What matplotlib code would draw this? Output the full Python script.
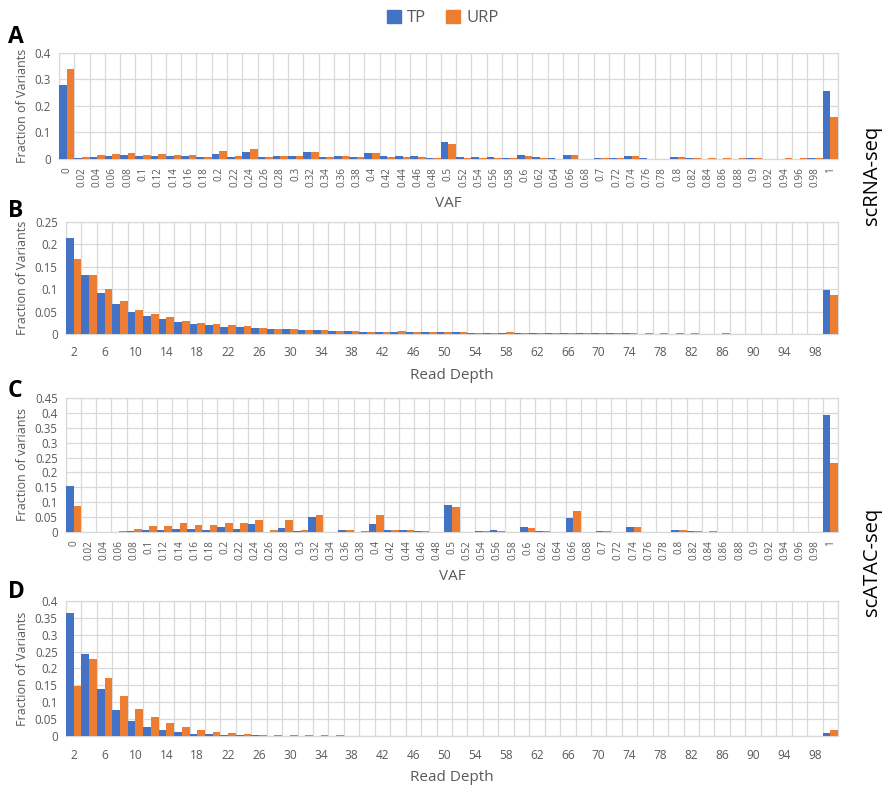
import matplotlib
matplotlib.use("Agg")
import matplotlib.pyplot as plt
import numpy as np
from matplotlib.patches import Patch

plt.rcParams['font.family'] = ['Open Sans', 'DejaVu Sans']

vaf_labels = ['0', '0.02', '0.04', '0.06', '0.08', '0.1', '0.12', '0.14', '0.16', '0.18',
              '0.2', '0.22', '0.24', '0.26', '0.28', '0.3', '0.32', '0.34', '0.36', '0.38',
              '0.4', '0.42', '0.44', '0.46', '0.48', '0.5', '0.52', '0.54', '0.56', '0.58',
              '0.6', '0.62', '0.64', '0.66', '0.68', '0.7', '0.72', '0.74', '0.76', '0.78',
              '0.8', '0.82', '0.84', '0.86', '0.88', '0.9', '0.92', '0.94', '0.96', '0.98', '1']
depth_labels = [str(d) for d in range(2, 101, 2)]

# Panel A: scRNA-seq VAF
a_tp = [0.280, 0.005, 0.009, 0.011, 0.014, 0.011, 0.012, 0.011, 0.011, 0.006,
        0.020, 0.009, 0.027, 0.006, 0.010, 0.011, 0.025, 0.006, 0.011, 0.006,
        0.021, 0.011, 0.011, 0.010, 0.004, 0.064, 0.007, 0.007, 0.007, 0.005,
        0.014, 0.007, 0.002, 0.017, 0.001, 0.003, 0.002, 0.010, 0.002, 0.000,
        0.007, 0.002, 0.001, 0.001, 0.001, 0.002, 0.000, 0.000, 0.001, 0.003, 0.256]
a_urp = [0.339, 0.007, 0.014, 0.019, 0.022, 0.017, 0.019, 0.017, 0.015, 0.009,
         0.029, 0.010, 0.037, 0.007, 0.012, 0.012, 0.025, 0.006, 0.011, 0.006,
         0.021, 0.007, 0.007, 0.006, 0.002, 0.056, 0.004, 0.004, 0.004, 0.004,
         0.011, 0.005, 0.001, 0.015, 0.001, 0.003, 0.002, 0.010, 0.001, 0.000,
         0.007, 0.002, 0.003, 0.002, 0.002, 0.002, 0.000, 0.002, 0.002, 0.002, 0.160]

# Panel B: scRNA-seq read depth
b_tp = [0.214, 0.131, 0.092, 0.067, 0.049, 0.041, 0.033, 0.026, 0.022, 0.019,
        0.016, 0.015, 0.013, 0.011, 0.010, 0.009, 0.008, 0.007, 0.006, 0.005,
        0.005, 0.005, 0.005, 0.004, 0.004, 0.004, 0.003, 0.003, 0.003, 0.003,
        0.002, 0.002, 0.003, 0.002, 0.002, 0.002, 0.002, 0.001, 0.001, 0.001,
        0.001, 0.001, 0.001, 0.001, 0.001, 0.001, 0.001, 0.001, 0.001, 0.099]
b_urp = [0.168, 0.132, 0.100, 0.074, 0.054, 0.045, 0.037, 0.029, 0.025, 0.023,
         0.019, 0.017, 0.014, 0.012, 0.012, 0.009, 0.008, 0.007, 0.007, 0.005,
         0.005, 0.006, 0.005, 0.005, 0.004, 0.005, 0.003, 0.003, 0.004, 0.003,
         0.003, 0.002, 0.002, 0.002, 0.002, 0.003, 0.002, 0.002, 0.002, 0.002,
         0.002, 0.001, 0.002, 0.001, 0.001, 0.001, 0.001, 0.001, 0.001, 0.088]

# Panel C: scATAC-seq VAF
c_tp = [0.156, 0.000, 0.000, 0.000, 0.002, 0.006, 0.006, 0.010, 0.010, 0.006,
        0.017, 0.009, 0.027, 0.001, 0.015, 0.004, 0.049, 0.000, 0.006, 0.000,
        0.028, 0.008, 0.005, 0.002, 0.000, 0.092, 0.001, 0.004, 0.006, 0.000,
        0.016, 0.004, 0.000, 0.047, 0.000, 0.004, 0.000, 0.017, 0.000, 0.000,
        0.007, 0.004, 0.001, 0.000, 0.000, 0.000, 0.000, 0.000, 0.000, 0.000, 0.394]
c_urp = [0.087, 0.000, 0.000, 0.002, 0.009, 0.020, 0.021, 0.030, 0.022, 0.022,
         0.031, 0.031, 0.039, 0.005, 0.040, 0.006, 0.058, 0.001, 0.007, 0.002,
         0.057, 0.008, 0.005, 0.002, 0.000, 0.084, 0.001, 0.004, 0.004, 0.000,
         0.013, 0.003, 0.000, 0.071, 0.000, 0.004, 0.000, 0.016, 0.000, 0.000,
         0.006, 0.004, 0.002, 0.000, 0.000, 0.000, 0.000, 0.000, 0.000, 0.000, 0.232]

# Panel D: scATAC-seq read depth
d_tp = [0.365, 0.243, 0.139, 0.077, 0.045, 0.028, 0.018, 0.011, 0.007, 0.005,
        0.003, 0.002, 0.002, 0.001, 0.001, 0.000, 0.000, 0.000, 0.000, 0.000,
        0.000, 0.000, 0.000, 0.000, 0.000, 0.000, 0.000, 0.000, 0.000, 0.000,
        0.000, 0.000, 0.000, 0.000, 0.000, 0.000, 0.000, 0.000, 0.000, 0.000,
        0.000, 0.000, 0.000, 0.000, 0.000, 0.000, 0.000, 0.000, 0.000, 0.008]
d_urp = [0.148, 0.227, 0.171, 0.118, 0.081, 0.056, 0.039, 0.027, 0.017, 0.012,
         0.009, 0.006, 0.004, 0.003, 0.003, 0.002, 0.002, 0.002, 0.000, 0.000,
         0.000, 0.000, 0.000, 0.000, 0.000, 0.000, 0.000, 0.000, 0.000, 0.000,
         0.000, 0.000, 0.000, 0.000, 0.000, 0.000, 0.000, 0.000, 0.000, 0.000,
         0.000, 0.000, 0.000, 0.000, 0.000, 0.000, 0.000, 0.000, 0.000, 0.018]

TP_C = '#4472C4'
URP_C = '#ED7D31'
GRID_C = '#D9D9D9'
TXT_C = '#595959'

fig = plt.figure(figsize=(8.86, 7.86), dpi=100)

panels = [
    dict(rect=[0.0666, 0.7977, 0.8792, 0.1349], tp=a_tp, urp=a_urp, labels=vaf_labels,
         ymax=0.4, ystep=0.1, ylabel='Fraction of Variants', xlabel='VAF', kind='vaf', letter='A'),
    dict(rect=[0.0745, 0.5751, 0.8713, 0.1425], tp=b_tp, urp=b_urp, labels=depth_labels,
         ymax=0.25, ystep=0.05, ylabel='Fraction of Variants', xlabel='Read Depth', kind='depth', letter='B'),
    dict(rect=[0.0745, 0.3232, 0.8713, 0.1704], tp=c_tp, urp=c_urp, labels=vaf_labels,
         ymax=0.45, ystep=0.05, ylabel='Fraction of variants', xlabel='VAF', kind='vaf', letter='C'),
    dict(rect=[0.0745, 0.0636, 0.8713, 0.1718], tp=d_tp, urp=d_urp, labels=depth_labels,
         ymax=0.4, ystep=0.05, ylabel='Fraction of Variants', xlabel='Read Depth', kind='depth', letter='D'),
]

for p in panels:
    ax = fig.add_axes(p['rect'])
    n = len(p['labels'])
    x = np.arange(n)
    ax.bar(x - 0.25, p['tp'], width=0.5, color=TP_C, zorder=3)
    ax.bar(x + 0.25, p['urp'], width=0.5, color=URP_C, zorder=3)
    ax.set_xlim(-0.5, n - 0.5)
    ax.set_ylim(0, p['ymax'])
    yt = np.arange(0, p['ymax'] + 1e-9, p['ystep'])
    ax.set_yticks(yt)
    ax.set_yticklabels([f'{v:g}' for v in np.round(yt, 3)])
    ax.set_xticks(np.arange(-0.5, n, 1.0), minor=True)
    ax.grid(True, which='minor', axis='x', color=GRID_C, lw=0.9, zorder=0)
    ax.grid(True, which='major', axis='y', color=GRID_C, lw=0.9, zorder=0)
    ax.tick_params(axis='x', which='minor', length=0)
    ax.tick_params(axis='both', which='major', length=0, colors=TXT_C)
    if p['kind'] == 'vaf':
        ax.set_xticks(x)
        ax.set_xticklabels(p['labels'], rotation=90, fontsize=7.2)
        ax.tick_params(axis='x', pad=6)
    else:
        ax.set_xticks(x[::2])
        ax.set_xticklabels(p['labels'][::2], fontsize=8.6)
        ax.tick_params(axis='x', pad=9)
    ax.tick_params(axis='y', labelsize=8.3, pad=6)
    for s in ax.spines.values():
        s.set_color(GRID_C)
        s.set_linewidth(0.9)
    ax.set_ylabel(p['ylabel'], fontsize=9, color=TXT_C, labelpad=4)
    ax.set_xlabel(p['xlabel'], fontsize=11, color=TXT_C, labelpad=6)

fig.text(0.009, 0.953, 'A', fontsize=16.5, fontweight='bold', va='center', ha='left')
fig.text(0.009, 0.731, 'B', fontsize=16.5, fontweight='bold', va='center', ha='left')
fig.text(0.009, 0.503, 'C', fontsize=16.5, fontweight='bold', va='center', ha='left')
fig.text(0.009, 0.247, 'D', fontsize=16.5, fontweight='bold', va='center', ha='left')

fig.text(0.984, 0.777, 'scRNA-seq', rotation=90, fontsize=14.5, va='center', ha='center')
fig.text(0.984, 0.285, 'scATAC-seq', rotation=90, fontsize=14.5, va='center', ha='center')

handles = [Patch(color=TP_C, label='TP'), Patch(color=URP_C, label='URP')]
leg = fig.legend(handles=handles, loc='center', bbox_to_anchor=(0.5, 0.977), ncol=2,
                 frameon=False, fontsize=12, handlelength=0.8, handleheight=0.8,
                 handletextpad=0.4, columnspacing=1.2)
for t in leg.get_texts():
    t.set_color(TXT_C)

fig.savefig('out.png', dpi=100)
